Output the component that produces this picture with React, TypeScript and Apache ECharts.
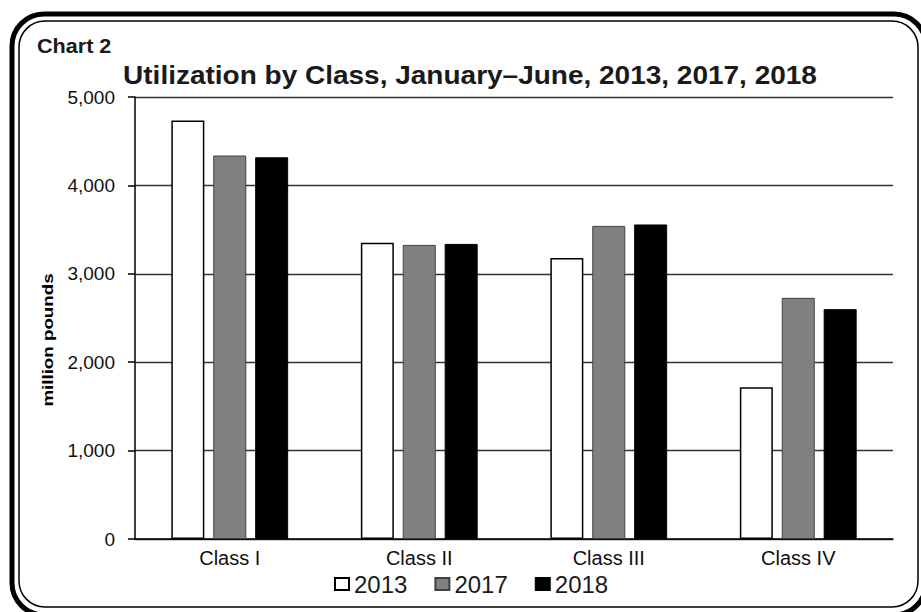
import React, { useEffect, useRef } from "react";
import * as echarts from "echarts";

const categories = ["Class I", "Class II", "Class III", "Class IV"];
const years = ["2013", "2017", "2018"];
const values2013 = [4733, 3350, 3180, 1718];
const values2017 = [4338, 3327, 3542, 2728];
const values2018 = [4318, 3338, 3558, 2600];
const yTicks = { min: 0, max: 5000, interval: 1000 };

const FONT = "'Liberation Sans', Arial, Helvetica, sans-serif";

export default function App() {
  const ref = useRef<HTMLDivElement>(null);
  useEffect(() => {
    if (!ref.current) return;
    const chart = echarts.init(ref.current, null, { renderer: "svg" });
    const barStyles = [
      { color: "#ffffff", borderColor: "#000000", borderWidth: 1.5 },
      { color: "#808080", borderColor: "#404040", borderWidth: 1 },
      { color: "#000000", borderColor: "#000000", borderWidth: 1 },
    ];
    const data = [values2013, values2017, values2018];
    chart.setOption({
      animation: false,
      backgroundColor: "#ffffff",
      textStyle: { fontFamily: FONT },
      grid: { left: 135, right: 28, top: 97, bottom: 73, containLabel: false },
      legend: {
        data: years,
        left: 329,
        top: 567,
        icon: "rect",
        itemWidth: 14,
        itemHeight: 12,
        itemGap: 27,
        textStyle: { fontSize: 24, color: "#1a1a1a", fontFamily: FONT },
      },
      xAxis: {
        type: "category",
        data: categories,
        axisLine: { show: true, lineStyle: { color: "#000", width: 1.5 } },
        axisTick: { show: false },
        axisLabel: { fontSize: 20, color: "#111", margin: 9, fontFamily: FONT },
        splitLine: { show: false },
      },
      yAxis: {
        type: "value",
        min: yTicks.min,
        max: yTicks.max,
        interval: yTicks.interval,
        axisLine: { show: true, lineStyle: { color: "#000", width: 1.5 } },
        axisTick: { show: true, length: 7, lineStyle: { color: "#000", width: 1.5 } },
        axisLabel: {
          fontSize: 19,
          color: "#111",
          margin: 20,
          fontFamily: FONT,
          formatter: (v: number) => v.toLocaleString("en-US"),
        },
        splitLine: { show: true, lineStyle: { color: "#333", width: 1.4 } },
      },
      series: years.map((y, i) => ({
        name: y,
        type: "bar",
        data: data[i],
        barWidth: 33,
        barGap: "27%",
        itemStyle: barStyles[i],
        emphasis: { disabled: true },
      })),
      graphic: [
        {
          type: "rect",
          silent: true,
          shape: { x: 12, y: 14, width: 914, height: 601, r: 32 },
          style: { fill: "none", stroke: "#000", lineWidth: 5 },
        },
        {
          type: "rect",
          silent: true,
          shape: { x: 19, y: 21, width: 899, height: 586, r: 26 },
          style: { fill: "none", stroke: "#000", lineWidth: 1.5 },
        },
        {
          type: "text",
          x: 37,
          y: 45.5,
          scaleX: 1.08,
          style: {
            text: "Chart 2",
            align: "left",
            verticalAlign: "middle",
            font: `bold 20px ${FONT}`,
            fill: "#1a1a1a",
          },
        },
        {
          type: "text",
          x: 470,
          y: 76,
          scaleX: 1.12,
          style: {
            text: "Utilization by Class, January\u2013June, 2013, 2017, 2018",
            align: "center",
            verticalAlign: "middle",
            font: `bold 25px ${FONT}`,
            fill: "#1a1a1a",
          },
        },
        {
          type: "text",
          x: 48.5,
          y: 340,
          rotation: Math.PI / 2,
          scaleX: 1.25,
          style: {
            text: "million pounds",
            align: "center",
            verticalAlign: "middle",
            font: `bold 15px ${FONT}`,
            fill: "#000",
          },
        },
      ],
    });
    return () => chart.dispose();
  }, []);
  return <div ref={ref} style={{ width: 921, height: 612, position: "absolute", left: 0, top: 0 }} />;
}
